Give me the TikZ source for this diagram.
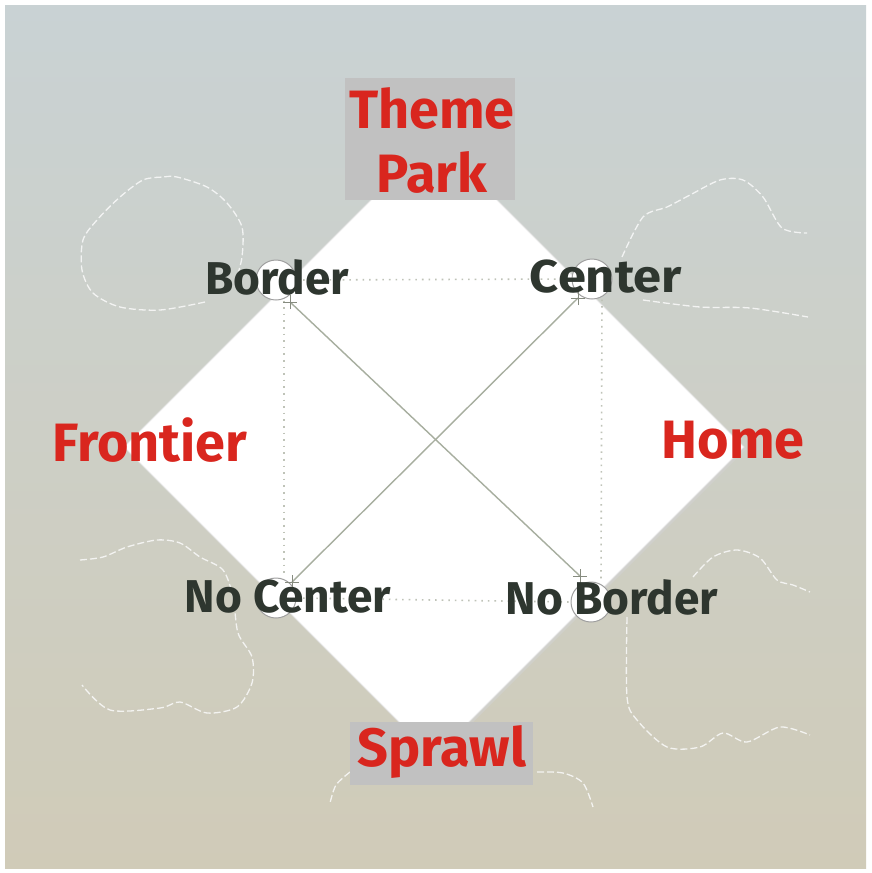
\documentclass[tikz,border=0pt]{standalone}
\usepackage{fontspec}
\setmainfont{Fira Sans}
\begin{document}
\begin{tikzpicture}[x=1pt,y=-1pt]
\definecolor{bgtop}{HTML}{C9D2D4}
\definecolor{bgmid}{HTML}{CDCFC6}
\definecolor{bgbot}{HTML}{D0CBB8}
\definecolor{redlab}{HTML}{D9261E}
\definecolor{darklab}{HTML}{2E362F}
\definecolor{boxgray}{HTML}{C1C1C1}
\definecolor{lineg}{HTML}{A7AE9F}
\definecolor{dotg}{HTML}{BFC3B8}
\tikzset{
  cloud/.style={draw=white!96!gray, line width=1.3pt, dash pattern=on 7pt off 3pt, opacity=0.85},
  redtext/.style={text=redlab, font=\fontsize{54}{58}\selectfont\bfseries, inner sep=0pt},
  darktext/.style={text=darklab, font=\fontsize{46}{50}\selectfont\bfseries, inner sep=0pt},
  graybox/.style={fill=boxgray, inner sep=0pt, align=center},
  corner/.style={circle, fill=white, draw=gray!75, line width=1pt, minimum size=40pt, inner sep=0pt},
  diag/.style={draw=lineg, line width=1.4pt},
  dotl/.style={draw=dotg, line width=1.6pt, dash pattern=on 1.6pt off 5pt},
}
\useasboundingbox (0,0) rectangle (871,873);
\fill[white] (0,0) rectangle (871,873);
\shade[top color=bgtop, bottom color=bgbot, middle color=bgmid] (5,5) rectangle (866,868);

% clouds
\draw[cloud] plot[smooth] coordinates {(205,302) (160,310) (120,307) (93,293) (82,270) (83,240) (97,220) (120,197) (143,180) (163,177) (177,177) (207,187) (227,203) (242,227) (242,257) (236,280)};
\draw[cloud] plot[smooth] coordinates {(622,257) (643,217) (667,207) (690,195) (720,180) (743,180) (763,197) (782,228) (807,233)};
\draw[cloud] plot[smooth] coordinates {(643,300) (700,307) (750,308) (808,317)};
\draw[cloud] plot[smooth] coordinates {(80,560) (103,557) (127,547) (157,540) (180,543) (200,557) (223,570) (233,597) (238,633) (252,657) (252,683) (237,707) (207,713) (180,702) (160,708) (110,710) (82,685)};
\draw[cloud] plot[smooth] coordinates {(693,577) (713,557) (737,550) (760,558) (777,580) (793,585) (810,592)};
\draw[cloud] plot[smooth] coordinates {(627,617) (627,697) (637,720) (667,747) (700,747) (723,733) (747,742) (780,727) (810,735)};
\draw[cloud] plot[smooth] coordinates {(350,772) (336,785) (330,803)};
\draw[cloud] plot[smooth] coordinates {(537,772) (563,773) (583,783) (593,807)};

% diamond
\coordinate (T) at (434,137);
\coordinate (L) at (124,447);
\coordinate (R) at (744,447);
\coordinate (B) at (434,757);
\fill[gray!35, opacity=0.6] ([xshift=2pt,yshift=-2pt]T) -- ([xshift=2pt,yshift=-2pt]R) -- ([xshift=2pt,yshift=-2pt]B) -- ([xshift=2pt,yshift=-2pt]L) -- cycle;
\fill[white] (T) -- (R) -- (B) -- (L) -- cycle;
\draw[white!80!gray, line width=1pt] (T) -- (R) -- (B) -- (L) -- cycle;

% corner circles
\node[corner] (cb) at (276,280) {};
\node[corner] (cc) at (592,279) {};
\node[corner] (cn) at (276,598) {};
\node[corner] (cnb) at (591,602) {};

% dotted square
\draw[dotl] (cb.east) -- (cc.west);
\draw[dotl] (cn.east) -- (cnb.west);
\draw[dotl] ([xshift=8pt]cb.south) -- ([xshift=8pt]cn.north);
\draw[dotl] ([xshift=10pt]cc.south) -- ([xshift=10pt]cnb.north);

% diagonals
\coordinate (pb) at (290,302);
\coordinate (pc) at (578,298);
\coordinate (pn) at (292,582);
\coordinate (pnb) at (580,576);
\draw[diag] (pb) -- (pnb);
\draw[diag] (pc) -- (pn);
\foreach \p in {pb,pc,pn,pnb}{
  \draw[lineg!80!black, line width=0.8pt] ([xshift=-7pt]\p) -- ([xshift=7pt]\p) ([yshift=-7pt]\p) -- ([yshift=7pt]\p);
}

% boxes
\node[graybox, minimum width=170pt, minimum height=122pt] (tpbox) at (430,139) {};
\node[redtext] (theme) at (432,108) {Theme};
\node[redtext] (park) at (432,172) {Park};
\node[graybox, minimum width=183pt, minimum height=63pt] (spbox) at (441,753) {};
\node[redtext] (sprawl) at (442,752) {Sprawl};

% side labels
\node[redtext] (frontier) at (150,440) {Frontier};
\node[redtext] (home) at (733,440) {Home};

% corner labels
\node[darktext] (lb) at (277,277) {Border};
\node[darktext] (lc) at (606,277) {\scalebox{1.1}[1]{Center}};
\node[darktext] (ln) at (288,597) {No Center};
\node[darktext] (lnb) at (612,597) {No Border};
\end{tikzpicture}
\end{document}
